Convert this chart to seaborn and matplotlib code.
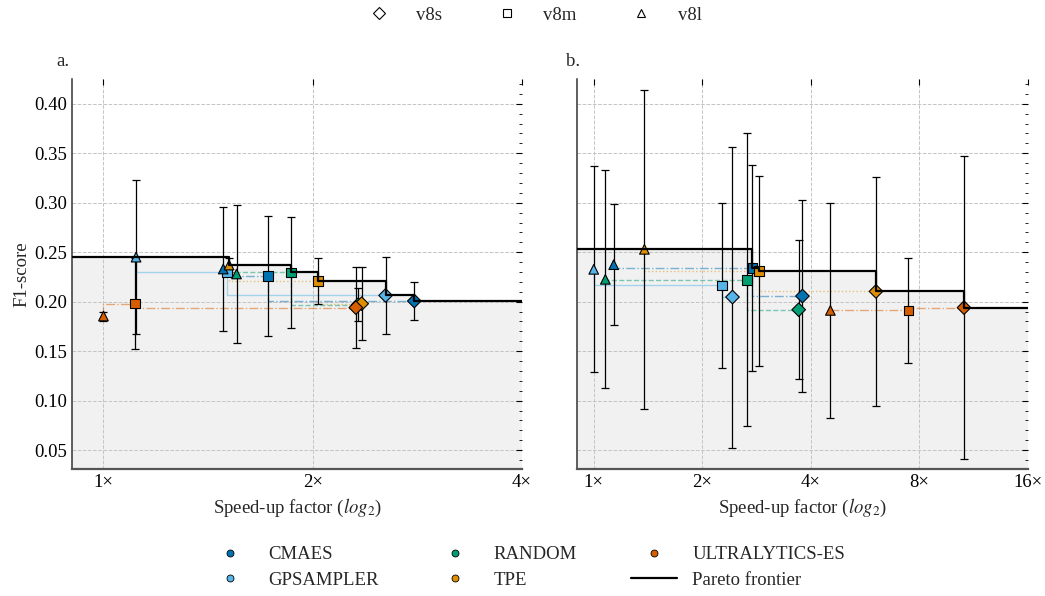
import numpy as np
import pandas as pd
import matplotlib
matplotlib.use("Agg")
import matplotlib.pyplot as plt
import seaborn as sns
from matplotlib.lines import Line2D
from matplotlib.ticker import FixedLocator, FuncFormatter, MultipleLocator, NullLocator

# ---------------- data ----------------
optimizers = ["CMAES", "GPSAMPLER", "RANDOM", "TPE", "ULTRALYTICS-ES"]
models = ["v8s", "v8m", "v8l"]

# panel a  (values ordered as in `optimizers`)
a_speed_v8s = [2.80, 2.546, 2.325, 2.352, 2.307]
a_f1_v8s = [0.2007, 0.2063, 0.1970, 0.1980, 0.1940]
a_err_v8s = [0.019, 0.0385, 0.0165, 0.037, 0.041]
a_speed_v8m = [1.724, 1.506, 1.863, 2.035, 1.111]
a_f1_v8m = [0.2260, 0.2300, 0.2295, 0.2210, 0.1980]
a_err_v8m = [0.061, 0.003, 0.056, 0.023, 0.046]
a_speed_v8l = [1.487, 1.114, 1.554, 1.516, 1.000]
a_f1_v8l = [0.2330, 0.2450, 0.2280, 0.2370, 0.1855]
a_err_v8l = [0.063, 0.0775, 0.070, 0.0074, 0.0045]

# panel b
b_speed_v8s = [3.79, 2.425, 3.70, 6.06, 10.63]
b_f1_v8s = [0.2057, 0.2047, 0.1919, 0.2104, 0.1940]
b_err_v8s = [0.097, 0.152, 0.070, 0.116, 0.153]
b_speed_v8m = [2.755, 2.265, 2.663, 2.87, 7.45]
b_f1_v8m = [0.2340, 0.2165, 0.2222, 0.2310, 0.1912]
b_err_v8m = [0.104, 0.083, 0.148, 0.0956, 0.053]
b_speed_v8l = [1.136, 1.000, 1.077, 1.382, 4.53]
b_f1_v8l = [0.2374, 0.2327, 0.2226, 0.2529, 0.1912]
b_err_v8l = [0.061, 0.104, 0.110, 0.161, 0.109]

x_ticks_a = [1, 2, 4]
x_ticks_b = [1, 2, 4, 8, 16]

# ---------------- style ----------------
sns.set_style("white")
plt.rcParams["font.family"] = ["Liberation Serif", "DejaVu Serif"]
plt.rcParams["mathtext.fontset"] = "stix"
plt.rcParams["axes.unicode_minus"] = False

pal = sns.color_palette("colorblind")
colors = {"CMAES": pal[0], "GPSAMPLER": pal[9], "RANDOM": pal[2],
          "TPE": pal[1], "ULTRALYTICS-ES": pal[3]}
lstyles = {"CMAES": "-.", "GPSAMPLER": "-", "RANDOM": "--",
           "TPE": ":", "ULTRALYTICS-ES": "-."}
markers = {"v8s": "D", "v8m": "s", "v8l": "^"}
FS = 13.5


def make_df(sp, f1, er):
    rows = []
    for m in models:
        for i, o in enumerate(optimizers):
            rows.append(dict(opt=o, model=m, speed=sp[m][i], f1=f1[m][i], err=er[m][i]))
    return pd.DataFrame(rows)


df_a = make_df({"v8s": a_speed_v8s, "v8m": a_speed_v8m, "v8l": a_speed_v8l},
               {"v8s": a_f1_v8s, "v8m": a_f1_v8m, "v8l": a_f1_v8l},
               {"v8s": a_err_v8s, "v8m": a_err_v8m, "v8l": a_err_v8l})
df_b = make_df({"v8s": b_speed_v8s, "v8m": b_speed_v8m, "v8l": b_speed_v8l},
               {"v8s": b_f1_v8s, "v8m": b_f1_v8m, "v8l": b_f1_v8l},
               {"v8s": b_err_v8s, "v8m": b_err_v8m, "v8l": b_err_v8l})

YLIM = (0.031, 0.425)

fig = plt.figure(figsize=(10.45, 5.96), dpi=100)
ax_a = fig.add_axes([0.0689, 0.2131, 0.4306, 0.6544])
ax_b = fig.add_axes([0.5522, 0.2131, 0.4316, 0.6544], sharey=ax_a)


def draw(ax, df, xlim, xticks):
    ax.set_xscale("log", base=2)
    ax.set_xlim(*xlim)
    ax.set_ylim(*YLIM)
    # pareto frontier
    d = df.sort_values("speed", ascending=False)
    best = -1
    fx, fy = [], []
    for _, r in d.iterrows():
        if r.f1 > best:
            best = r.f1
            fx.append(r.speed)
            fy.append(r.f1)
    fx, fy = fx[::-1], fy[::-1]
    xs = [xlim[0]] + fx + [xlim[1]]
    ys = [fy[0]] + fy + [fy[-1]]
    ax.fill_between(xs, ys, YLIM[0], step="post", color="#f1f1f1", lw=0, zorder=0.2)
    ax.step(xs, ys, where="post", color="black", lw=1.6, zorder=6)
    # per optimizer step lines
    for o in optimizers:
        s = df[df.opt == o].sort_values("speed")
        ax.step(s.speed, s.f1, where="pre", color=colors[o], ls=lstyles[o],
                lw=1.0, alpha=0.5, zorder=1.5)
    ax.errorbar(df.speed, df.f1, yerr=df.err, fmt="none", ecolor="black",
                elinewidth=0.9, capsize=3, capthick=0.9, zorder=2)
    sns.scatterplot(data=df, x="speed", y="f1", hue="opt", style="model",
                    hue_order=optimizers, palette=colors, markers=markers,
                    s=48, edgecolor="black", linewidth=0.8, legend=False,
                    zorder=4, ax=ax)
    ax.set_xlim(*xlim)
    ax.set_ylim(*YLIM)
    ax.xaxis.set_major_locator(FixedLocator(xticks))
    ax.xaxis.set_minor_locator(NullLocator())
    ax.xaxis.set_major_formatter(FuncFormatter(lambda v, p: f"{int(round(v))}×"))
    ax.yaxis.set_major_locator(MultipleLocator(0.05))
    ax.yaxis.set_minor_locator(MultipleLocator(0.01))
    ax.yaxis.set_major_formatter(FuncFormatter(lambda v, p: f"{v:.2f}"))
    ax.grid(True, which="major", ls="--", color="#c4c4c4", lw=0.7)
    ax.set_axisbelow(True)
    ax.tick_params(which="both", direction="in", top=True, right=True,
                   labelsize=FS, colors="black")
    ax.tick_params(which="major", length=4, width=0.8)
    ax.tick_params(which="minor", length=2, width=0.6)
    for side in ["top", "right"]:
        ax.spines[side].set_visible(False)
    ax.spines["left"].set_color("#333333")
    ax.spines["left"].set_linewidth(1.1)
    ax.spines["bottom"].set_color("#555555")
    ax.spines["bottom"].set_linewidth(1.6)
    ax.set_xlabel(r"Speed-up factor ($log_2$)", fontsize=FS)
    ax.set_ylabel("")


draw(ax_a, df_a, (0.901, 4), x_ticks_a)
draw(ax_b, df_b, (0.899, 16), x_ticks_b)
ax_a.set_ylabel("F1-score", fontsize=FS, labelpad=3)
ax_b.tick_params(axis="y", labelleft=False)
ax_a.text(-0.035, 1.044, "a.", transform=ax_a.transAxes, fontsize=FS, ha="left", va="center")
ax_b.text(-0.025, 1.044, "b.", transform=ax_b.transAxes, fontsize=FS, ha="left", va="center")

# top legend (model size markers)
mh = [Line2D([], [], marker=markers[m], ls="none", mfc="white", mec="black",
             ms=6 if m != "v8l" else 5.5, mew=0.8) for m in models]
fig.legend(mh, models, loc="center", bbox_to_anchor=(0.506, 0.974), ncol=3,
           frameon=False, fontsize=FS, handlelength=2.5, columnspacing=2.2,
           handletextpad=0.7)

# bottom legend (optimizers + frontier)
oh = [Line2D([], [], marker="o", ls="none", mfc=colors[o], mec="black",
             ms=5, mew=0.6) for o in optimizers]
oh.append(Line2D([], [], color="black", lw=1.6))
fig.legend(oh, optimizers + ["Pareto frontier"], loc="center",
           bbox_to_anchor=(0.503, 0.048), ncol=3, frameon=False, fontsize=FS,
           handlelength=2.5, columnspacing=2.85, handletextpad=0.8,
           labelspacing=0.45)

fig.savefig("out.png", dpi=100)
